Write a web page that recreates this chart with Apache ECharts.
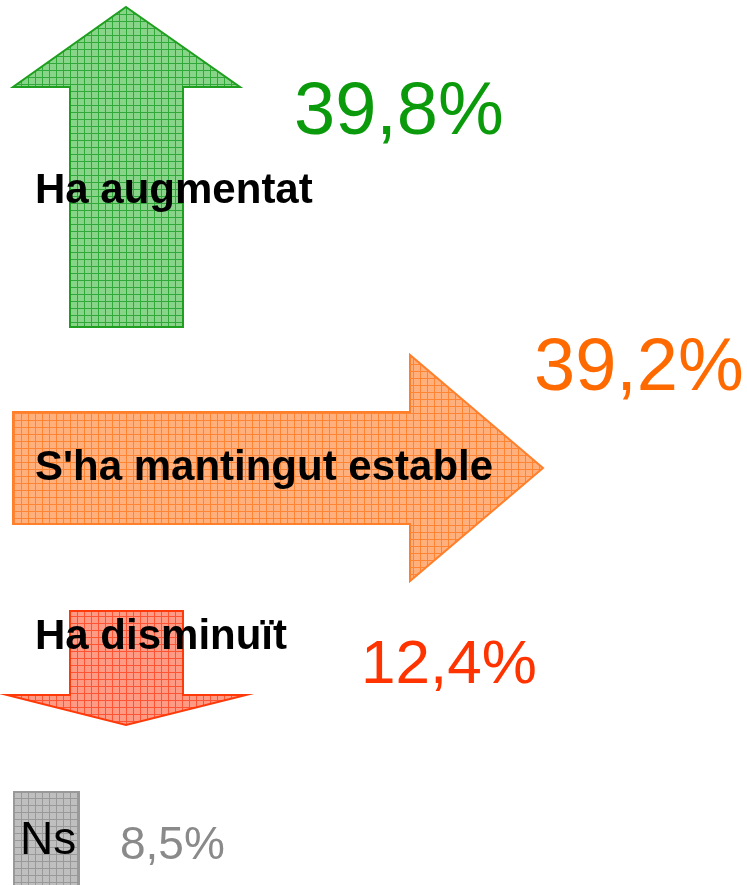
<!DOCTYPE html>
<html>
<head>
<meta charset="utf-8">
<script src="https://cdn.jsdelivr.net/npm/echarts@6/dist/echarts.min.js"></script>
<style>
  html, body { margin: 0; padding: 0; background: #fff; }
  #main { width: 747px; height: 885px; }
</style>
</head>
<body>
<div id="main"></div>
<script>
// dades
var categories = ["Ha augmentat", "S'ha mantingut estable", "Ha disminuït", "Ns"];
var values = [39.8, 39.2, 12.4, 8.5];

// colors per categoria
var fillColors = ["#88d488", "#ffb07c", "#ff9a84", "#bfbfbf"];
var gridColors = ["#30a83a", "#ff8434", "#ff5434", "#999999"];
var lineColors = ["#1f9f1f", "#ff7f2a", "#ff3a0a", "#999999"];
var valueColors = ["#0b9a0b", "#ff6a00", "#ff3300", "#8a8a8a"];

// forma de cada fletxa (unitats dels eixos)
var shapes = [
  [[126, 7], [240, 87], [183, 87], [183, 327], [70, 327], [70, 87], [13, 87]],
  [[13, 412], [410, 412], [410, 355], [543, 468], [410, 581], [410, 524], [13, 524]],
  [[70, 611], [183, 611], [183, 695], [246, 695], [126, 725], [7, 695], [70, 695]],
  [[14, 792], [79, 792], [79, 892], [14, 892]]
];
// posicio de les etiquetes
var namePos = [[35, 191], [35, 468], [35, 637], [20, 841]];
var valuePos = [[294, 114], [534, 370], [361, 666], [120, 846]];
var nameFonts = ['bold 42px "Liberation Sans"', 'bold 42px "Liberation Sans"', 'bold 42px "Liberation Sans"', '46px "Liberation Sans"'];
var valueFonts = ['74px "Liberation Sans"', '74px "Liberation Sans"', '62px "Liberation Sans"', '46px "Liberation Sans"'];

function makePattern(bg, line) {
  var c = document.createElement("canvas");
  c.width = 7; c.height = 7;
  var ctx = c.getContext("2d");
  ctx.fillStyle = bg;
  ctx.fillRect(0, 0, 7, 7);
  ctx.fillStyle = line;
  ctx.fillRect(0, 0, 7, 1);
  ctx.fillRect(0, 0, 1, 7);
  return c;
}

function fmt(v) {
  return v.toFixed(1).replace(".", ",") + "%";
}

var chart = echarts.init(document.getElementById("main"));

chart.setOption({
  animation: false,
  grid: { left: 0, right: 0, top: 0, bottom: 0 },
  xAxis: { type: "value", min: 0, max: 747, show: false },
  yAxis: { type: "value", min: 0, max: 885, inverse: true, show: false },
  series: [{
    type: "custom",
    data: values.map(function (v, i) { return [i, v]; }),
    renderItem: function (params, api) {
      var i = params.dataIndex;
      var pts = shapes[i].map(function (p) { return api.coord(p); });
      var np = api.coord(namePos[i]);
      var vp = api.coord(valuePos[i]);
      return {
        type: "group",
        children: [
          {
            type: "polygon",
            shape: { points: pts },
            style: {
              fill: { image: makePattern(fillColors[i], gridColors[i]), repeat: "repeat" },
              stroke: lineColors[i],
              lineWidth: 2
            }
          },
          {
            type: "text",
            style: {
              text: categories[i],
              x: np[0], y: np[1],
              font: nameFonts[i],
              fill: "#000",
              align: "left",
              verticalAlign: "middle"
            }
          },
          {
            type: "text",
            style: {
              text: fmt(api.value(1)),
              x: vp[0], y: vp[1],
              font: valueFonts[i],
              fill: valueColors[i],
              align: "left",
              verticalAlign: "middle"
            }
          }
        ]
      };
    }
  }]
});
</script>
</body>
</html>
